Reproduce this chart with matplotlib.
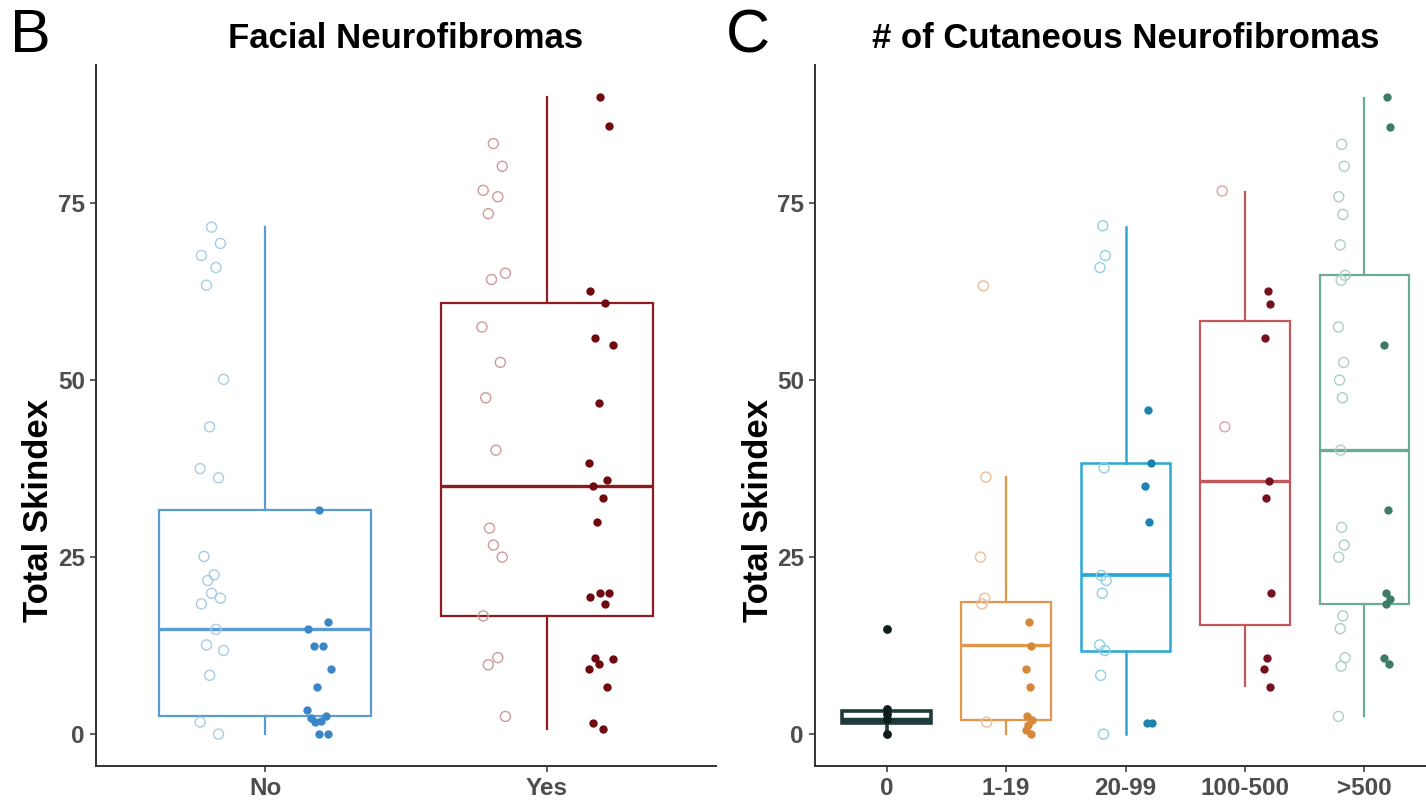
import matplotlib.pyplot as plt

plt.rcParams['font.family'] = ['Liberation Sans', 'DejaVu Sans']

# ---- panel B: facial neurofibromas ----
face_cats = ['No', 'Yes']
no_open = [71.6, 69.3, 67.6, 65.9, 63.4, 50.1, 43.4, 37.5, 36.2, 25.1, 22.5,
           21.7, 19.9, 19.2, 18.4, 14.8, 12.6, 11.8, 8.3, 1.7, 0.0]
no_fill = [31.7, 15.9, 14.8, 12.5, 12.5, 9.2, 6.7, 3.4, 2.5, 2.3, 1.8, 1.7,
           0.0, 0.0]
yes_open = [83.4, 80.2, 76.8, 75.9, 73.5, 65.1, 64.2, 57.5, 52.5, 47.5, 40.1,
            29.1, 26.7, 25.0, 16.7, 10.8, 9.8, 2.5]
yes_fill = [90.0, 85.9, 62.6, 60.9, 55.9, 55.0, 46.7, 38.3, 35.9, 35.0, 33.4,
            30.0, 20.0, 20.0, 19.4, 18.4, 10.8, 10.6, 9.9, 9.2, 6.7, 1.6, 0.7]
face_q1 = [2.5, 16.7]
face_med = [14.8, 35.0]
face_q3 = [31.7, 60.9]
face_lo = [0.0, 0.7]
face_hi = [71.6, 90.0]

# ---- panel C: number of cutaneous neurofibromas ----
cut_cats = ['0', '1-19', '20-99', '100-500', '>500']
cut_open = [
    [],
    [63.3, 36.3, 25.0, 19.2, 18.4, 1.7],
    [71.8, 67.6, 65.9, 37.6, 22.4, 21.7, 19.9, 12.6, 11.8, 8.3, 0.0],
    [76.7, 43.4],
    [83.3, 80.2, 75.9, 73.4, 69.1, 64.8, 64.1, 57.5, 52.5, 50.0, 47.5, 40.1,
     29.2, 26.7, 25.0, 16.7, 14.9, 10.8, 9.6, 2.5],
]
cut_fill = [
    [14.9, 3.5, 2.8, 2.1, 0.0],
    [15.8, 12.5, 9.2, 6.7, 2.6, 2.0, 1.3, 0.6, 0.0],
    [45.8, 38.3, 35.0, 29.9, 1.6, 1.6],
    [62.6, 60.8, 55.9, 35.8, 33.4, 19.9, 10.8, 9.2, 6.7],
    [90.0, 85.8, 54.9, 31.6, 19.9, 19.1, 18.4, 10.8, 9.9],
]
cut_q1 = [1.6, 2.0, 11.7, 15.4, 18.4]
cut_med = [2.0, 12.6, 22.5, 35.8, 40.1]
cut_q3 = [3.2, 18.7, 38.3, 58.3, 64.9]
cut_lo = [0.0, 0.0, 0.0, 6.8, 2.5]
cut_hi = [3.5, 36.3, 71.6, 76.6, 89.8]

face_box_col = ['#5b9bd3', '#8e1b1f']
face_open_col = ['#a9cce4', '#cf9a9a']
face_fill_col = ['#3a86c6', '#6e0a10']

cut_box_col = ['#1f3b3c', '#e3974a', '#2aa9d6', '#c2575c', '#6eab93']
cut_open_col = ['#1f3b3c', '#eebd96', '#8fd0e2', '#dba2a7', '#acd0c2']
cut_fill_col = ['#0f1d1e', '#d6883a', '#1b83ae', '#741220', '#3f7c66']

PATTERN = [0.0, 0.7, -0.8, 0.35, -0.4, 0.95, -0.15, -0.9, 0.55, -0.6, 0.2, -0.3]


def jitter(n, center, spread=0.045):
    return [center + spread * PATTERN[i % len(PATTERN)] for i in range(n)]


def draw_boxes(ax, q1, med, q3, lo, hi, cols, widths):
    for i in range(len(q1)):
        st = {'q1': q1[i], 'med': med[i], 'q3': q3[i],
              'whislo': lo[i], 'whishi': hi[i], 'fliers': []}
        c = cols[i]
        lw = widths[i] if isinstance(widths, list) else widths
        ax.bxp([st], positions=[i + 1], widths=0.75, showcaps=False,
               showfliers=False, patch_artist=True,
               boxprops=dict(facecolor='white', edgecolor=c, linewidth=lw),
               whiskerprops=dict(color=c, linewidth=lw),
               medianprops=dict(color=c, linewidth=lw * 1.5, solid_capstyle='butt'),
               zorder=2)


def style(ax, cats, title):
    ax.set_xlim(0.4, len(cats) + 0.6)
    ax.set_ylim(-4.5, 94.5)
    ax.set_xticks(range(1, len(cats) + 1))
    ax.set_xticklabels(cats)
    ax.set_yticks([0, 25, 50, 75])
    for s in ['top', 'right']:
        ax.spines[s].set_visible(False)
    for s in ['left', 'bottom']:
        ax.spines[s].set_linewidth(1.4)
        ax.spines[s].set_color('#333333')
    ax.tick_params(length=4, width=1.1, color='#333333', labelsize=17.5,
                   labelcolor='#4d4d4d', pad=4)
    for lab in ax.get_xticklabels() + ax.get_yticklabels():
        lab.set_fontweight('bold')
    ax.set_ylabel('Total Skindex', fontsize=25, fontweight='bold')
    ax.set_title(title, fontsize=25, fontweight='bold', pad=12)


fig = plt.figure(figsize=(14.26, 8.01), dpi=100)
axB = fig.add_axes([96 / 1426, 35 / 801, 620 / 1426, 701 / 801])
axC = fig.add_axes([815 / 1426, 35 / 801, 621 / 1426, 701 / 801])

# panel B
draw_boxes(axB, face_q1, face_med, face_q3, face_lo, face_hi, face_box_col, 1.6)
for i, (op, fl) in enumerate([(no_open, no_fill), (yes_open, yes_fill)]):
    x0 = i + 1
    axB.scatter(jitter(len(op), x0 - 0.19), op, s=52, facecolors='none',
                edgecolors=face_open_col[i], linewidths=1.0, zorder=3)
    axB.scatter(jitter(len(fl), x0 + 0.19), fl, s=36, color=face_fill_col[i],
                linewidths=0, zorder=3)
style(axB, face_cats, 'Facial Neurofibromas')
axB.yaxis.set_label_coords(-0.066, 0.365)

# panel C
draw_boxes(axC, cut_q1, cut_med, cut_q3, cut_lo, cut_hi, cut_box_col,
           [2.6, 1.6, 1.8, 1.6, 1.6])
for i in range(len(cut_cats)):
    x0 = i + 1
    op, fl = cut_open[i], cut_fill[i]
    if len(op) == 0:
        axC.scatter([x0] * len(fl), fl, s=40, color=cut_fill_col[i],
                    linewidths=0, zorder=3)
        continue
    axC.scatter(jitter(len(op), x0 - 0.19, 0.03), op, s=52, facecolors='none',
                edgecolors=cut_open_col[i], linewidths=1.0, zorder=3)
    axC.scatter(jitter(len(fl), x0 + 0.19, 0.03), fl, s=36,
                color=cut_fill_col[i], linewidths=0, zorder=3)
style(axC, cut_cats, '# of Cutaneous Neurofibromas')
axC.yaxis.set_label_coords(-0.064, 0.365)

fig.text(10 / 1426, 1 - 37 / 801, 'B', fontsize=44, va='center', ha='left')
fig.text(726 / 1426, 1 - 37 / 801, 'C', fontsize=44, va='center', ha='left')

fig.savefig('out.png', dpi=100, facecolor='white')
